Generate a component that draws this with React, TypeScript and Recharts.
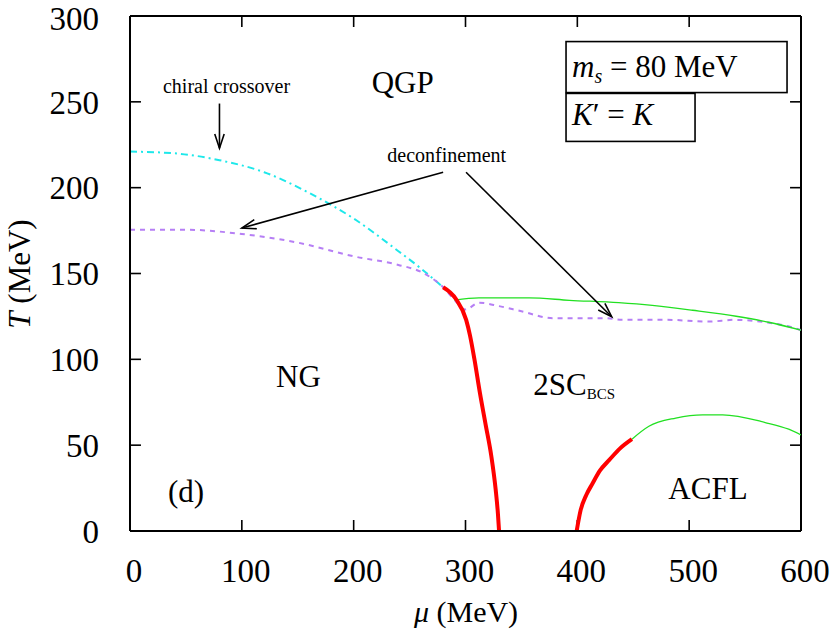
import React from 'react';
import { LineChart, Line, XAxis, YAxis, ReferenceDot, ReferenceLine } from 'recharts';

const FONT = '"Liberation Serif", "Times New Roman", serif';

const xTicks = [0, 100, 200, 300, 400, 500, 600];
const yTicks = [0, 50, 100, 150, 200, 250, 300];

// chiral crossover (cyan, dash-dot)
const chiralMu = [0, 40, 80, 120, 160, 200, 240, 260, 280];
const chiralT = [221, 220, 216, 209, 197, 182, 163, 153, 142];

// deconfinement (purple, dotted)
const deconfMu = [0, 50, 100, 150, 200, 240, 260, 280, 291, 300, 312, 330, 350, 378, 400, 425, 440, 480, 518, 540, 570, 590, 600];
const deconfT = [175.5, 175.5, 173, 168, 160, 155, 151, 142, 134, 129, 133, 131, 128, 124, 124, 124, 123, 123, 122, 123, 121.5, 119, 117];

// 2SC upper boundary (green)
const upperMu = [290, 312, 357, 393, 437, 467, 503, 542, 571, 600];
const upperT = [134.5, 135.8, 135.8, 134.4, 133, 131.4, 128.6, 125.1, 121.6, 117];

// first-order NG / 2SC (red)
const redLeftMu = [280, 291.6, 300.6, 304, 308, 313, 318, 323, 327, 329, 330];
const redLeftT = [142, 135, 123, 114, 100, 80, 62, 44, 24, 10, 0];

// first-order 2SC / ACFL (red)
const redRightMu = [399.4, 403, 408, 413.7, 420, 428.6, 438, 448.8];
const redRightT = [0, 12.3, 21, 27.8, 35, 41.4, 48, 53.5];

// ACFL upper boundary (green)
const lowerMu = [448.8, 464, 488, 512, 530, 568, 589, 600];
const lowerT = [53.5, 61, 65.8, 67.7, 67.7, 63.2, 59.3, 56];

const pts = (mu: number[], T: number[]) => mu.map((m, i) => ({ mu: m, T: T[i] }));

// inward tick length, in axis units (about 11 px)
const TICK_X = 9.8;
const TICK_Y = 6.4;

const ArrowShape = (props: any) => {
  const { x1, y1, x2, y2 } = props;
  const ang = Math.atan2(y2 - y1, x2 - x1);
  const L = 15;
  const a = 0.32;
  const p1 = `${x2 - L * Math.cos(ang - a)},${y2 - L * Math.sin(ang - a)}`;
  const p2 = `${x2 - L * Math.cos(ang + a)},${y2 - L * Math.sin(ang + a)}`;
  return (
    <g>
      <line x1={x1} y1={y1} x2={x2} y2={y2} stroke="#000" strokeWidth={1.6} />
      <polyline points={`${p1} ${x2},${y2} ${p2}`} fill="none" stroke="#000" strokeWidth={1.6} />
    </g>
  );
};

const textShape = (content: React.ReactNode, size: number) => (p: any) => (
  <text x={p.cx} y={p.cy} fontSize={size} fontFamily={FONT} fill="#000">
    {content}
  </text>
);

const boxShape = (w: number, h: number, content: React.ReactNode) => (p: any) => (
  <g>
    <rect x={p.cx} y={p.cy} width={w} height={h} fill="#fff" stroke="#000" strokeWidth={1.6} />
    <text x={p.cx + 6} y={p.cy + h - 16} fontSize={31} fontFamily={FONT} fill="#000">
      {content}
    </text>
  </g>
);

const App: React.FC = () => {
  const tickStyle = { stroke: '#000', strokeWidth: 1.6 };
  return (
    <div style={{ position: 'absolute', left: 0, top: 0, width: 832, height: 630, background: '#fff' }}>
      <LineChart width={832} height={630} margin={{ top: 16, right: 31, bottom: 0, left: 0 }}>
        <XAxis
          xAxisId="b"
          type="number"
          dataKey="mu"
          domain={[0, 600]}
          ticks={xTicks}
          allowDataOverflow
          height={99}
          tickLine={false}
          tickMargin={22}
          axisLine={{ stroke: '#000', strokeWidth: 2 }}
          tick={{ fill: '#000', fontSize: 33, fontFamily: FONT, dx: 4 }}
        />
        <YAxis
          yAxisId="l"
          type="number"
          dataKey="T"
          domain={[0, 300]}
          ticks={yTicks}
          allowDataOverflow
          width={130}
          tickLine={false}
          tickMargin={25}
          axisLine={{ stroke: '#000', strokeWidth: 2 }}
          tick={{ fill: '#000', fontSize: 33, fontFamily: FONT }}
        />

        {/* frame: top and right */}
        <ReferenceLine xAxisId="b" yAxisId="l" y={300} stroke="#000" strokeWidth={2} />
        <ReferenceLine xAxisId="b" yAxisId="l" x={600} stroke="#000" strokeWidth={2} />

        {/* inward ticks on all four sides */}
        {xTicks.slice(1, -1).map((t) => (
          <ReferenceLine key={`xb${t}`} xAxisId="b" yAxisId="l" segment={[{ x: t, y: 0 }, { x: t, y: TICK_Y }]} {...tickStyle} />
        ))}
        {xTicks.slice(1, -1).map((t) => (
          <ReferenceLine key={`xt${t}`} xAxisId="b" yAxisId="l" segment={[{ x: t, y: 300 }, { x: t, y: 300 - TICK_Y }]} {...tickStyle} />
        ))}
        {yTicks.slice(1, -1).map((t) => (
          <ReferenceLine key={`yl${t}`} xAxisId="b" yAxisId="l" segment={[{ x: 0, y: t }, { x: TICK_X, y: t }]} {...tickStyle} />
        ))}
        {yTicks.slice(1, -1).map((t) => (
          <ReferenceLine key={`yr${t}`} xAxisId="b" yAxisId="l" segment={[{ x: 600, y: t }, { x: 600 - TICK_X, y: t }]} {...tickStyle} />
        ))}

        <Line xAxisId="b" yAxisId="l" data={pts(chiralMu, chiralT)} dataKey="T" type="monotone" stroke="#1ee8ea" strokeWidth={2} strokeDasharray="7 4 2 4" dot={false} isAnimationActive={false} />
        <Line xAxisId="b" yAxisId="l" data={pts(deconfMu, deconfT)} dataKey="T" type="monotone" stroke="#b67ff5" strokeWidth={2} strokeDasharray="5 5" dot={false} isAnimationActive={false} />
        <Line xAxisId="b" yAxisId="l" data={pts(upperMu, upperT)} dataKey="T" type="monotone" stroke="#22e022" strokeWidth={1.3} dot={false} isAnimationActive={false} />
        <Line xAxisId="b" yAxisId="l" data={pts(lowerMu, lowerT)} dataKey="T" type="monotone" stroke="#22e022" strokeWidth={1.3} dot={false} isAnimationActive={false} />
        <Line xAxisId="b" yAxisId="l" data={pts(redLeftMu, redLeftT)} dataKey="T" type="monotone" stroke="#ff0000" strokeWidth={4} dot={false} isAnimationActive={false} />
        <Line xAxisId="b" yAxisId="l" data={pts(redRightMu, redRightT)} dataKey="T" type="monotone" stroke="#ff0000" strokeWidth={4} dot={false} isAnimationActive={false} />

        <ReferenceLine xAxisId="b" yAxisId="l" segment={[{ x: 80, y: 249 }, { x: 80, y: 223 }]} shape={ArrowShape} />
        <ReferenceLine xAxisId="b" yAxisId="l" segment={[{ x: 280, y: 209 }, { x: 100, y: 176.5 }]} shape={ArrowShape} />
        <ReferenceLine xAxisId="b" yAxisId="l" segment={[{ x: 300.5, y: 209 }, { x: 430.7, y: 124.8 }]} shape={ArrowShape} />

        <ReferenceDot xAxisId="b" yAxisId="l" x={29.5} y={255.1} r={0} shape={textShape('chiral crossover', 20)} />
        <ReferenceDot xAxisId="b" yAxisId="l" x={216.1} y={255.1} r={0} shape={textShape('QGP', 31)} />
        <ReferenceDot xAxisId="b" yAxisId="l" x={230.1} y={215.1} r={0} shape={textShape('deconfinement', 20)} />
        <ReferenceDot xAxisId="b" yAxisId="l" x={130.6} y={84.1} r={0} shape={textShape('NG', 31)} />
        <ReferenceDot
          xAxisId="b"
          yAxisId="l"
          x={360.6}
          y={79.2}
          r={0}
          shape={textShape(
            <>
              2SC<tspan fontSize={15} dy={4}>BCS</tspan>
            </>,
            31
          )}
        />
        <ReferenceDot xAxisId="b" yAxisId="l" x={34} y={16.9} r={0} shape={textShape('(d)', 31)} />
        <ReferenceDot xAxisId="b" yAxisId="l" x={481.4} y={18.5} r={0} shape={textShape('ACFL', 31)} />

        <ReferenceDot
          xAxisId="b"
          yAxisId="l"
          x={389.9}
          y={285.1}
          r={0}
          shape={boxShape(221, 51, (
            <>
              <tspan fontStyle="italic">m</tspan>
              <tspan fontStyle="italic" fontSize={20} dy={6}>s</tspan>
              <tspan dy={-6}> = 80 MeV</tspan>
            </>
          ))}
        />
        <ReferenceDot
          xAxisId="b"
          yAxisId="l"
          x={389.9}
          y={254.9}
          r={0}
          shape={boxShape(129, 48, (
            <>
              <tspan fontStyle="italic">K</tspan>
              <tspan>′ = </tspan>
              <tspan fontStyle="italic">K</tspan>
            </>
          ))}
        />
      </LineChart>

      <div
        style={{
          position: 'absolute',
          left: 19,
          top: 274,
          transform: 'translate(-50%, -50%) rotate(-90deg)',
          fontFamily: FONT,
          fontSize: 31,
          whiteSpace: 'nowrap',
          lineHeight: 1,
        }}
      >
        <i>T</i> (MeV)
      </div>
      <div
        style={{
          position: 'absolute',
          left: 466,
          top: 612,
          transform: 'translate(-50%, -50%)',
          fontFamily: FONT,
          fontSize: 30,
          whiteSpace: 'nowrap',
          lineHeight: 1,
        }}
      >
        <i>μ</i> (MeV)
      </div>
    </div>
  );
};

export default App;
